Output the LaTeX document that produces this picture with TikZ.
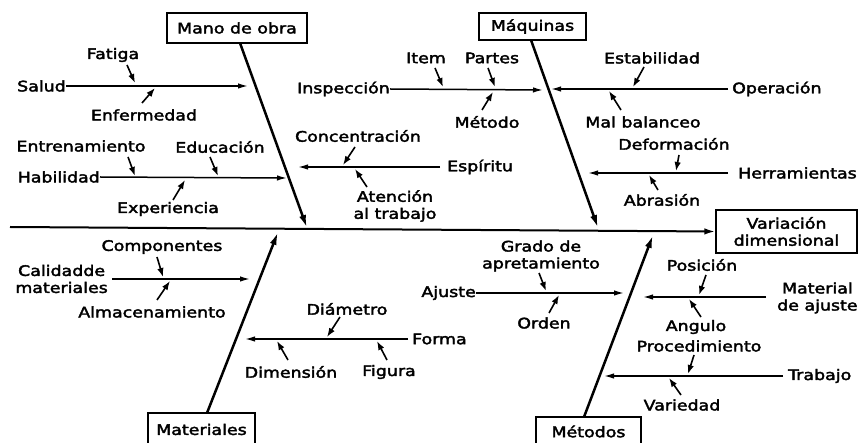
\documentclass[tikz,border=0pt]{standalone}
\usepackage{fontspec}
\setmainfont{DejaVu Sans}[FakeStretch=1.2, FakeBold=2.5]
\usetikzlibrary{arrows.meta}
\begin{document}
\begin{tikzpicture}[x=1pt,y=-1pt,
  lbl/.style={font=\fontsize{14.5}{17}\selectfont, inner sep=0pt, align=center},
  box/.style={draw, line width=1.4pt, font=\fontsize{14.5}{17}\selectfont, inner sep=0pt, align=center},
  spine/.style={line width=2pt, -{Latex[length=11pt,width=6.5pt]}},
  bone/.style={line width=2.5pt, -{Latex[length=13pt,width=7pt]}},
  branch/.style={line width=1.5pt, -{Latex[length=10pt,width=5.5pt]}},
  sub/.style={line width=1.6pt, -{Latex[length=9pt,width=6.5pt]}}]
\useasboundingbox[fill=white] (0,0) rectangle (862,443);

% ---- boxes
\node[box, minimum width=140pt, minimum height=30pt] (mano) at (237,28) {Mano de obra};
\node[box, minimum width=107pt, minimum height=27pt] (maq) at (532.5,26.5) {Máquinas};
\node[box, minimum width=141pt, minimum height=43pt] (var) at (786.5,231.5) {Variación\\dimensional};
\node[box, minimum width=107pt, minimum height=33pt] (mat) at (201.5,429.5) {Materiales};
\node[box, minimum width=105pt, minimum height=29pt] (met) at (588.5,431.5) {Métodos};

% ---- spine and bones
\coordinate (spL) at (10,227);
\draw[spine] (spL) -- (var.west);
\coordinate (manoA) at (240,43);  \coordinate (manoB) at (307,228);
\coordinate (maqA) at (531,40);   \coordinate (maqB) at (598,228);
\coordinate (matA) at (207,413);  \coordinate (matB) at (278,232);
\coordinate (metA) at (584,417);  \coordinate (metB) at (653,235);
\draw[bone] (manoA) -- (manoB);
\draw[bone] (maqA) -- (maqB);
\draw[bone] (matA) -- (matB);
\draw[bone] (metA) -- (metB);

% ---- branch labels
\node[lbl, anchor=east] (salud) at (66,86) {Salud};
\node[lbl, anchor=east] (habil) at (100,177) {Habilidad};
\node[lbl, anchor=east] (insp) at (390,89) {Inspección};
\node[lbl, anchor=west] (esp) at (447,167) {Espíritu};
\node[lbl, anchor=west] (oper) at (732,89) {Operación};
\node[lbl, anchor=west] (herr) at (738,173) {Herramientas};
\node[lbl, anchor=east] (calid) at (108,279) {Calidadde\\materiales};
\node[lbl, anchor=west] (forma) at (412,339) {Forma};
\node[lbl, anchor=east] (ajus) at (476,293) {Ajuste};
\node[lbl, anchor=west] (matajus) at (777,298) {Material\\de ajuste};
\node[lbl, anchor=west] (trab) at (788,376) {Trabajo};

% ---- branch end points
\coordinate (saludE) at (248,86);
\coordinate (habilE) at (287,178);
\coordinate (inspE) at (543,90);
\coordinate (espS) at (440,167);   \coordinate (espE) at (298,167);
\coordinate (operS) at (728,89);   \coordinate (operE) at (551,89);
\coordinate (herrS) at (728,173);  \coordinate (herrE) at (588,173);
\coordinate (calidS) at (112,279); \coordinate (calidE) at (250,279);
\coordinate (formaS) at (408,339); \coordinate (formaE) at (245,339);
\coordinate (ajusE) at (624,293);
\coordinate (matajS) at (766,297); \coordinate (matajE) at (643,297);
\coordinate (trabS) at (783,376);  \coordinate (trabE) at (604,376);

\draw[branch] (salud.east) -- (saludE);
\draw[branch] (habil.east) -- (habilE);
\draw[branch] (insp.east) -- (inspE);
\draw[branch] (espS) -- (espE);
\draw[branch] (operS) -- (operE);
\draw[branch] (herrS) -- (herrE);
\draw[branch] (calidS) -- (calidE);
\draw[branch] (formaS) -- (formaE);
\draw[branch] (ajus.east) -- (ajusE);
\draw[branch] (matajS) -- (matajE);
\draw[branch] (trabS) -- (trabE);

% ---- sub-cause labels
\node[lbl] (fatiga) at (113,55) {Fatiga};
\node[lbl] (enferm) at (144,115) {Enfermedad};
\node[lbl] (entren) at (81,146) {Entrenamiento};
\node[lbl] (educ) at (220,147) {Educación};
\node[lbl] (exper) at (168,209) {Experiencia};
\node[lbl] (item) at (426,58) {Item};
\node[lbl] (partes) at (492,58) {Partes};
\node[lbl] (metodo) at (487,122) {Método};
\node[lbl] (concen) at (358,136) {Concentración};
\node[lbl] (atenc) at (395,206) {Atención\\al trabajo};
\node[lbl] (estab) at (652,58) {Estabilidad};
\node[lbl] (malbal) at (643,122) {Mal balanceo};
\node[lbl] (deform) at (674,144) {Deformación};
\node[lbl] (abras) at (662,200) {Abrasión};
\node[lbl] (compo) at (162,247) {Componentes};
\node[lbl] (almac) at (152,312) {Almacenamiento};
\node[lbl] (diam) at (347,309) {Diámetro};
\node[lbl] (dimen) at (291,372) {Dimensión};
\node[lbl] (figura) at (389,372) {Figura};
\node[lbl] (grado) at (541,256) {Grado de\\apretamiento};
\node[lbl] (orden) at (544,323) {Orden};
\node[lbl] (posic) at (702,265) {Posición};
\node[lbl] (angulo) at (696,327) {Angulo};
\node[lbl] (proced) at (699,346) {Procedimiento};
\node[lbl] (varied) at (682,405) {Variedad};

% ---- sub-cause arrow end points
\coordinate (fatA) at (127,65);  \coordinate (fatB) at (135,83);
\coordinate (enfA) at (142,103); \coordinate (enfB) at (155,88);
\coordinate (entA) at (128,157); \coordinate (entB) at (135,176);
\coordinate (eduA) at (210,157); \coordinate (eduB) at (218,176);
\coordinate (expA) at (173,200); \coordinate (expB) at (185,180);
\coordinate (itmA) at (435,68);  \coordinate (itmB) at (443,87);
\coordinate (parA) at (488,68);  \coordinate (parB) at (495,87);
\coordinate (mtdA) at (482,110); \coordinate (mtdB) at (493,92);
\coordinate (conA) at (355,147); \coordinate (conB) at (343,165);
\coordinate (ateA) at (367,187); \coordinate (ateB) at (355,169);
\coordinate (estA) at (644,67);  \coordinate (estB) at (633,87);
\coordinate (malA) at (621,110); \coordinate (malB) at (609,91);
\coordinate (defA) at (679,155); \coordinate (defB) at (676,171);
\coordinate (abrA) at (658,190); \coordinate (abrB) at (649,175);
\coordinate (comA) at (157,257); \coordinate (comB) at (163,277);
\coordinate (almA) at (157,300); \coordinate (almB) at (170,281);
\coordinate (diaA) at (340,317); \coordinate (diaB) at (327,337);
\coordinate (dimA) at (288,360); \coordinate (dimB) at (277,341);
\coordinate (figA) at (387,360); \coordinate (figB) at (377,341);
\coordinate (graA) at (539,273); \coordinate (graB) at (546,291);
\coordinate (ordA) at (549,313); \coordinate (ordB) at (559,295);
\coordinate (posA) at (706,275); \coordinate (posB) at (699,295);
\coordinate (angA) at (701,317); \coordinate (angB) at (689,299);
\coordinate (proA) at (694,355); \coordinate (proB) at (688,374);
\coordinate (vaA) at (681,395);  \coordinate (vaB) at (669,378);

\foreach \a/\b in {fatA/fatB, enfA/enfB, entA/entB, eduA/eduB, expA/expB,
  itmA/itmB, parA/parB, mtdA/mtdB, conA/conB, ateA/ateB,
  estA/estB, malA/malB, defA/defB, abrA/abrB,
  comA/comB, almA/almB, diaA/diaB, dimA/dimB, figA/figB,
  graA/graB, ordA/ordB, posA/posB, angA/angB, proA/proB, vaA/vaB}
  \draw[sub] (\a) -- (\b);
\end{tikzpicture}
\end{document}
